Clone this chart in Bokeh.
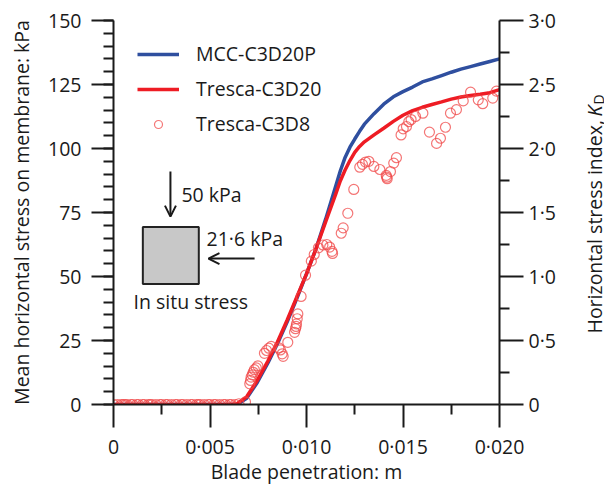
import math
from bokeh.plotting import figure
from bokeh.layouts import row
from bokeh.models import (Range1d, LinearAxis, FixedTicker, Legend, LegendItem, Label,
                          Arrow, OpenHead, BoxAnnotation, CustomJSTickFormatter)
from bokeh.embed import file_html
from bokeh.resources import INLINE

# ---------------- data ----------------
# continuous curves (blade penetration in m, mean horizontal stress in kPa)
line_x = [0.0, 0.002, 0.004, 0.006, 0.0064, 0.0069, 0.00745, 0.008, 0.0085, 0.009,
          0.0095, 0.010, 0.0105, 0.011, 0.0115, 0.01175, 0.012, 0.01225, 0.0125, 0.01275,
          0.013, 0.0135, 0.014, 0.0145, 0.015, 0.0155, 0.016, 0.0165, 0.017, 0.0175,
          0.018, 0.0185, 0.019, 0.0195, 0.020]
mcc_c3d20p = [0, 0, 0, 0, 0, 2.4, 8.6, 16.2, 23.8, 32.3,
              41.5, 51.0, 61.0, 72.6, 85.0, 91.2, 96.5, 100.5, 103.7, 106.7,
              109.5, 113.6, 117.3, 120.2, 122.2, 124.0, 126.0, 127.2, 128.5, 129.8,
              131.0, 132.0, 133.0, 134.0, 135.0]
tresca_c3d20 = [0, 0, 0, 0, 0.3, 3.0, 9.4, 17.0, 24.5, 33.0,
                42.0, 51.0, 61.0, 71.5, 81.9, 87.3, 91.6, 95.3, 98.5, 100.8,
                102.6, 105.3, 107.9, 110.6, 113.0, 114.8, 116.1, 117.2, 118.2, 119.3,
                120.1, 120.7, 121.2, 121.8, 123.0]

# discrete points (Tresca-C3D8)
c3d8_x = [0.0000, 0.0002, 0.0004, 0.0005, 0.0006, 0.0007, 0.0009, 0.0010, 0.0012, 0.0013,
          0.0015, 0.0016, 0.0018, 0.0019, 0.0020, 0.0022, 0.0024, 0.0025, 0.0027, 0.0028,
          0.0030, 0.0032, 0.0033, 0.0035, 0.0036, 0.0038, 0.0040, 0.0041, 0.0043, 0.0044,
          0.0045, 0.0047, 0.0049, 0.0050, 0.0052, 0.0053, 0.0055, 0.0057, 0.0058, 0.0060,
          0.0061, 0.0063, 0.0065, 0.00684,
          0.00706, 0.00710, 0.00713, 0.00719, 0.00724, 0.00730, 0.00740, 0.00748,
          0.00782, 0.00793, 0.00805, 0.00817,
          0.00857, 0.00865, 0.00874, 0.00879, 0.00903,
          0.00938, 0.00943, 0.00946, 0.00948, 0.00952, 0.00955, 0.00972,
          0.00995, 0.01025, 0.01040, 0.01062, 0.01085, 0.01105, 0.01120, 0.01132, 0.01135,
          0.01180, 0.01190, 0.01214, 0.01245, 0.01276, 0.01290, 0.01306, 0.01323, 0.01349,
          0.01380, 0.01413, 0.01418, 0.01416, 0.01435, 0.01452, 0.01466, 0.01490, 0.01501,
          0.01518, 0.01530, 0.01542, 0.01565, 0.01603, 0.01637, 0.01674, 0.01694, 0.01720,
          0.01746, 0.01777, 0.01812, 0.01850, 0.01890, 0.01913, 0.01965, 0.01984]
c3d8_y = [0, 0, 0, 0, 0, 0, 0, 0, 0, 0,
          0, 0, 0, 0, 0, 0, 0, 0, 0, 0,
          0, 0, 0, 0, 0, 0, 0, 0, 0, 0,
          0, 0, 0, 0, 0, 0, 0, 0, 0, 0,
          0, 0, 0.3, 1.0,
          8.1, 9.4, 10.7, 11.6, 12.6, 13.6, 14.3, 15.1,
          20.0, 21.1, 22.0, 22.7,
          22.1, 21.3, 19.8, 18.8, 24.3,
          28.2, 29.6, 30.5, 31.5, 33.5, 35.4, 42.2,
          50.5, 56.0, 58.6, 61.2, 62.3, 62.5, 61.5, 59.8, 59.0,
          66.9, 69.0, 74.7, 84.0, 92.7, 93.8, 94.7, 95.0, 93.0,
          91.8, 89.5, 88.2, 88.8, 91.0, 94.3, 96.4, 105.3, 107.7,
          108.6, 110.5, 111.3, 112.5, 113.8, 106.4, 102.0, 104.0, 108.3,
          113.8, 115.2, 118.6, 122.0, 119.0, 117.5, 119.7, 122.4]

x_major = [0.0, 0.005, 0.010, 0.015, 0.020]
x_minor = [0.0025, 0.0075, 0.0125, 0.0175]
y_major = [0, 25, 50, 75, 100, 125, 150]
y_minor = [v for v in range(0, 151, 5)]
kd_major = [0.0, 0.5, 1.0, 1.5, 2.0, 2.5, 3.0]
kd_minor = [0.25, 0.75, 1.25, 1.75, 2.25, 2.75]

series_names = ["MCC-C3D20P", "Tresca-C3D20", "Tresca-C3D8"]
x_title = "Blade penetration: m"
y_title = "Mean horizontal stress on membrane: kPa"
kd_title = "Horizontal stress index, "

# ---------------- style ----------------
FONT = "Open Sans"
FS = "19.5px"
INK = "#1a1a1a"
BLUE = "#2f4f9f"
RED = "#ee1c24"
CIRC = "#f04848"
TXT = dict(text_font=FONT, text_font_size=FS, text_color=INK)

p = figure(width=570, height=488, output_backend="svg", toolbar_location=None,
           x_range=Range1d(0, 0.02), y_range=Range1d(0, 150),
           x_axis_location=None, y_axis_location=None,
           min_border_left=113, min_border_right=71, min_border_top=20, min_border_bottom=84)
p.extra_y_ranges = {"kd": Range1d(0, 3.0)}
p.outline_line_color = None
p.xgrid.visible = False
p.ygrid.visible = False


def style(ax, major_out, minor_out, standoff):
    ax.axis_line_color = INK
    ax.axis_line_width = 2
    ax.major_tick_line_color = INK
    ax.major_tick_line_width = 2
    ax.major_tick_out = major_out
    ax.major_tick_in = 0
    ax.minor_tick_line_color = INK
    ax.minor_tick_line_width = 2
    ax.minor_tick_out = minor_out
    ax.minor_tick_in = 0
    ax.major_label_text_font = FONT
    ax.major_label_text_font_size = FS
    ax.major_label_text_color = INK
    ax.major_label_standoff = standoff
    ax.axis_label_text_font = FONT
    ax.axis_label_text_font_size = FS
    ax.axis_label_text_font_style = "normal"
    ax.axis_label_text_color = INK


xaxis = LinearAxis(ticker=FixedTicker(ticks=x_major, minor_ticks=x_minor),
                   formatter=CustomJSTickFormatter(code="return tick == 0 ? '0' : tick.toFixed(3).replace('.', '\u00b7');"),
                   axis_label=x_title, axis_label_standoff=-5)
style(xaxis, 23, 10, 5)
p.add_layout(xaxis, "below")

yaxis = LinearAxis(ticker=FixedTicker(ticks=y_major, minor_ticks=y_minor),
                   axis_label=y_title, axis_label_standoff=10)
style(yaxis, 22, 10, 10)
p.add_layout(yaxis, "left")

raxis = LinearAxis(y_range_name="kd", ticker=FixedTicker(ticks=kd_major, minor_ticks=kd_minor),
                   formatter=CustomJSTickFormatter(code="return tick == 0 ? '0' : tick.toFixed(1).replace('.', '\u00b7');"))
style(raxis, 24, 10, 5)
p.add_layout(raxis, "right")

# ---------------- data glyphs ----------------
r_mcc = p.line(line_x, mcc_c3d20p, line_color=BLUE, line_width=3.5)
r_tre = p.line(line_x, tresca_c3d20, line_color=RED, line_width=3.5)
r_c8 = p.scatter(c3d8_x, c3d8_y, marker="circle", size=10, fill_color=None,
                 line_color=CIRC, line_alpha=0.75, line_width=1.2)

legend = Legend(items=[LegendItem(label=series_names[0], renderers=[r_mcc]),
                       LegendItem(label=series_names[1], renderers=[r_tre]),
                       LegendItem(label=series_names[2], renderers=[r_c8])],
                location=(24, 267), padding=0, margin=0, spacing=8,
                glyph_width=42, glyph_height=20, label_standoff=17,
                border_line_color=None, background_fill_alpha=0,
                label_text_font=FONT, label_text_font_size=FS, label_text_color=INK)
p.add_layout(legend, "center")

# ---------------- inset sketch ----------------
p.add_layout(BoxAnnotation(left=0.00152, right=0.00442, bottom=47.1, top=69.3,
                           fill_color="#c8c8c8", fill_alpha=1.0,
                           line_color="#222222", line_width=2, line_alpha=1.0))
p.add_layout(Arrow(x_start=0.00295, y_start=91.0, x_end=0.00295, y_end=73.4,
                   line_color=INK, line_width=2,
                   end=OpenHead(size=11, line_color=INK, line_width=2)))
p.add_layout(Arrow(x_start=0.00731, y_start=57.0, x_end=0.00492, y_end=57.0,
                   line_color=INK, line_width=2,
                   end=OpenHead(size=11, line_color=INK, line_width=2)))
p.add_layout(Label(x=0.00352, y=82.0, text="50 kPa", text_align="left",
                   text_baseline="middle", **TXT))
p.add_layout(Label(x=0.00482, y=65.0, text="21\u00b76 kPa", text_align="left",
                   text_baseline="middle", **TXT))
p.add_layout(Label(x=0.00104, y=40.2, text="In situ stress", text_align="left",
                   text_baseline="middle", **TXT))

# ---------------- right-hand title strip (italic K, subscript D) ----------------
# its frame is aligned with the main frame (bottom at the 0 line, top at 150 kPa)
pr = figure(width=34, height=488, output_backend="svg", toolbar_location=None,
            x_axis_location=None, y_axis_location=None, min_border=0,
            x_range=Range1d(0, 1), y_range=Range1d(0, 1))
pr.outline_line_color = None
pr.xgrid.visible = False
pr.ygrid.visible = False
pr.add_layout(Label(x=24, y=71, x_units="screen", y_units="screen",
                    text=kd_title, angle=math.pi / 2,
                    text_align="left", text_baseline="alphabetic", **TXT))
pr.add_layout(Label(x=24, y=288, x_units="screen", y_units="screen",
                    text="K", angle=math.pi / 2, text_align="left", text_baseline="alphabetic",
                    text_font=FONT, text_font_size=FS, text_color=INK, text_font_style="italic"))
pr.add_layout(Label(x=28, y=300, x_units="screen", y_units="screen",
                    text="D", angle=math.pi / 2, text_align="left", text_baseline="alphabetic",
                    text_font=FONT, text_font_size="14px", text_color=INK))

layout = row(p, pr)
open("out.html", "w").write(file_html(layout, INLINE))
